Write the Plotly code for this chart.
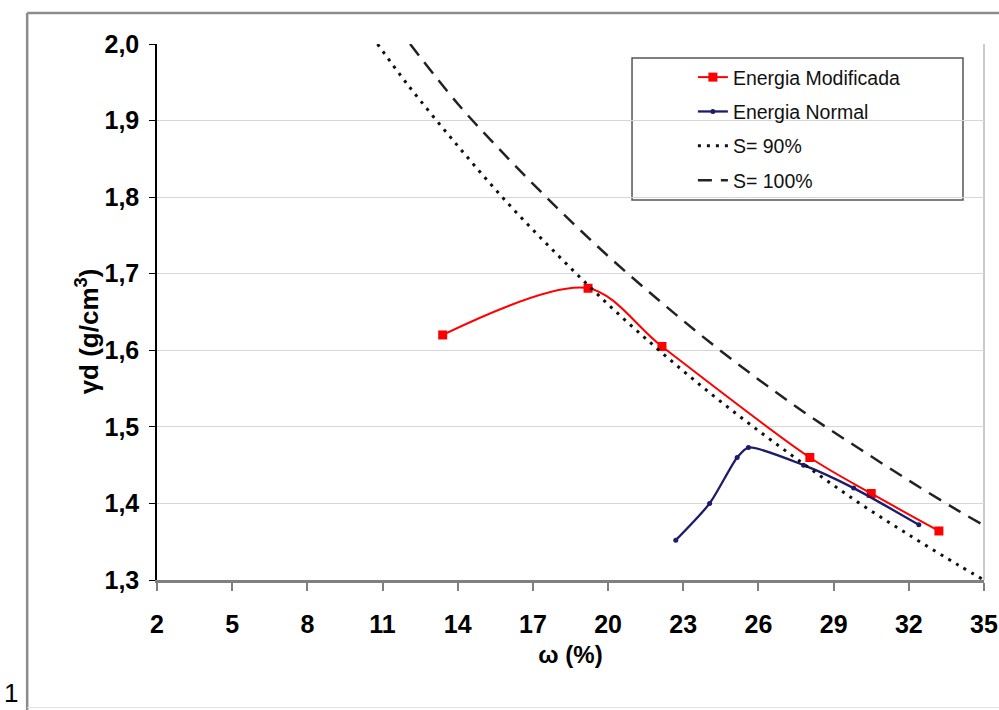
import plotly.graph_objects as go

# Compaction curves: moisture content w (%) vs dry unit weight (g/cm3)
w_modificada = [13.4, 19.2, 22.15, 28.05, 30.5, 33.2]
gd_modificada = [1.620, 1.681, 1.605, 1.460, 1.413, 1.364]

w_normal = [22.7, 24.05, 25.15, 25.6, 27.8, 29.8, 32.4]
gd_normal = [1.352, 1.400, 1.460, 1.473, 1.450, 1.420, 1.372]

# Saturation lines
w_s90 = [10.8, 12, 14, 16, 18, 20, 22, 24, 26, 28, 30, 32, 34, 35]
gd_s90 = [2.000, 1.947, 1.867, 1.792, 1.724, 1.660, 1.601, 1.546, 1.495, 1.447, 1.401, 1.359, 1.319, 1.300]

w_s100 = [12.1, 14, 16, 18, 20, 22, 24, 26, 28, 30, 32, 34, 35.5]
gd_s100 = [2.000, 1.922, 1.851, 1.785, 1.723, 1.666, 1.612, 1.562, 1.515, 1.472, 1.430, 1.390, 1.362]

x_ticks = [2, 5, 8, 11, 14, 17, 20, 23, 26, 29, 32, 35]
y_ticks = [1.3, 1.4, 1.5, 1.6, 1.7, 1.8, 1.9, 2.0]

FONT = "Liberation Sans, Arial, sans-serif"

fig = go.Figure()

fig.add_trace(go.Scatter(
    x=w_modificada, y=gd_modificada, name="Energia Modificada", legendgroup="a",
    mode="lines+markers", line=dict(color="#ff0000", width=2, shape="spline", smoothing=0.9),
    marker=dict(symbol="square", size=9, color="#ff0000"), cliponaxis=False))

fig.add_trace(go.Scatter(
    x=w_normal, y=gd_normal, name="Energia Normal", legendgroup="b",
    mode="lines+markers", line=dict(color="#1c1c6b", width=2.3, shape="spline", smoothing=0.7),
    marker=dict(symbol="circle", size=5, color="#1c1c6b"), cliponaxis=False))

fig.add_trace(go.Scatter(
    x=w_s90, y=gd_s90, name="S= 90%", legendgroup="c",
    mode="lines", line=dict(color="#111111", width=3, dash="3px,6px", shape="spline"),
    cliponaxis=False))

fig.add_trace(go.Scatter(
    x=w_s100, y=gd_s100, name="S= 100%", legendgroup="d",
    mode="lines", line=dict(color="#222222", width=2.5, dash="14px,9px", shape="spline"),
    cliponaxis=True))

fig.update_layout(
    width=999, height=710,
    margin=dict(l=157, r=15, t=44, b=130, autoexpand=False),
    paper_bgcolor="white", plot_bgcolor="white",
    separators=",.",
    font=dict(family=FONT, color="#000000"),
    showlegend=True,
    legend=dict(
        x=0.648, y=0.974, xanchor="left", yanchor="top",
        bgcolor="rgba(0,0,0,0)", borderwidth=0,
        font=dict(family=FONT, size=19.5, color="#111111"),
        tracegroupgap=6,
    ),
    xaxis=dict(
        range=[2, 35], tickmode="array", tickvals=x_ticks, automargin=False,
        ticks="outside", ticklen=8, tickcolor="#808080", tickwidth=1.5,
        showline=True, linecolor="#808080", linewidth=3,
        showgrid=False, zeroline=False, ticklabelstandoff=12,
        tickfont=dict(family=FONT, size=25, color="#000000", weight="bold"),
        title=dict(text="<b>ω (%)</b>", font=dict(family=FONT, size=24), standoff=10),
    ),
    yaxis=dict(
        range=[1.3, 2.0], tickmode="array", tickvals=y_ticks, tickformat=".1f",
        automargin=False,
        ticks="outside", ticklen=6, tickcolor="#000000", tickwidth=1,
        showline=True, linecolor="#000000", linewidth=1.5,
        showgrid=True, gridcolor="#d6d6d6", gridwidth=1, zeroline=False,
        ticklabelstandoff=5,
        tickfont=dict(family=FONT, size=25, color="#000000", weight="bold"),
    ),
    shapes=[
        # plot-area right border
        dict(type="line", xref="paper", yref="paper", x0=1, x1=1, y0=0, y1=1,
             line=dict(color="#b8b8b8", width=1.5), layer="below"),
        # legend frame
        dict(type="rect", xref="paper", yref="paper",
             x0=0.5744, x1=0.9746, y0=0.709, y1=0.974,
             line=dict(color="#555555", width=1.5), fillcolor="white", layer="between"),
        # outer frame
        dict(type="line", xref="paper", yref="paper", x0=-0.157, x1=-0.157, y0=-0.245, y1=1.058,
             line=dict(color="#8c8c8c", width=2.5)),
        dict(type="line", xref="paper", yref="paper", x0=-0.157, x1=1.03, y0=1.058, y1=1.058,
             line=dict(color="#8c8c8c", width=2.5)),
        dict(type="line", xref="paper", yref="paper", x0=-0.157, x1=1.03, y0=-0.238, y1=-0.238,
             line=dict(color="#e2e2e2", width=1)),
    ],
    annotations=[
        dict(text="<b>γd (g/cm<sup>3</sup>)</b>", xref="paper", yref="paper",
             x=-0.084, y=0.463, xanchor="center", yanchor="middle",
             textangle=-90, showarrow=False,
             font=dict(family=FONT, size=26, color="#000000")),
        dict(text="1", xref="paper", yref="paper", x=-0.177, y=-0.21,
             xanchor="center", yanchor="middle",
             showarrow=False, font=dict(family=FONT, size=26, color="#000000")),
    ],
)

fig.write_html("out.html")
